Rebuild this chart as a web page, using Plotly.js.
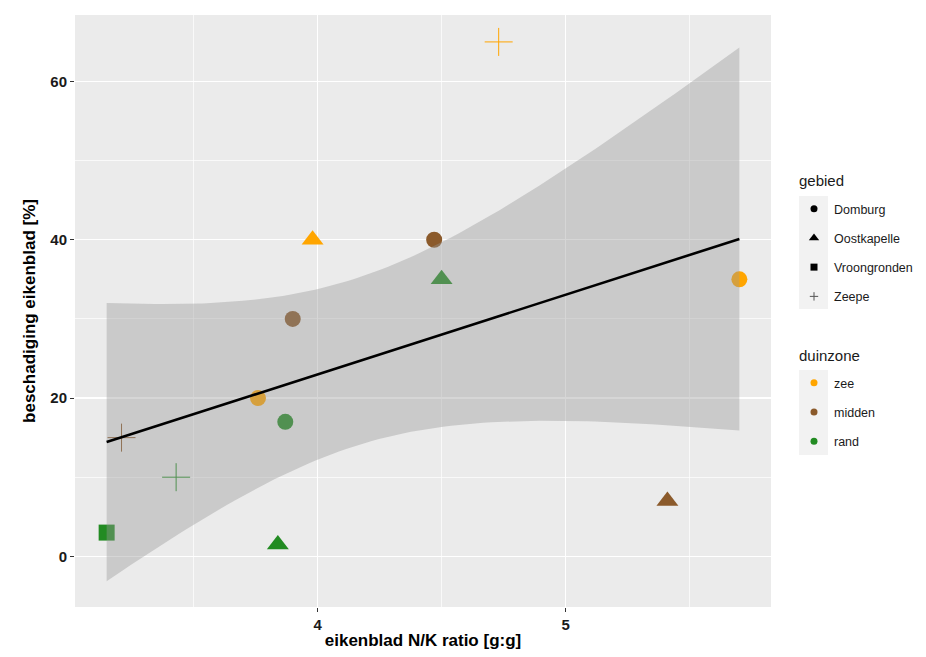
<!DOCTYPE html>
<html><head><meta charset="utf-8">
<script src="https://cdn.plot.ly/plotly-3.0.1.min.js"></script>
<style>html,body{margin:0;padding:0;background:#fff}#chart{width:926px;height:657px}</style>
</head><body><div id="chart"></div>
<script>
// ---- data ----
const nkRatio  = [4.73, 3.98, 4.47, 4.50, 3.90, 3.76, 3.87, 5.70, 5.41, 3.84, 3.15, 3.21, 3.43];
const schade   = [65, 40, 40, 35, 30, 20, 17, 35, 7, 1.5, 3, 15, 10];
const gebied   = ['Zeepe','Oostkapelle','Domburg','Oostkapelle','Domburg','Domburg','Domburg','Domburg','Oostkapelle','Oostkapelle','Vroongronden','Zeepe','Zeepe'];
const duinzone = ['zee','zee','midden','rand','midden','zee','rand','zee','midden','rand','rand','midden','rand'];
const gebiedLevels   = ['Domburg','Oostkapelle','Vroongronden','Zeepe'];
const duinzoneLevels = ['zee','midden','rand'];
const xTickVals = [4, 5];
const yTickVals = [0, 20, 40, 60];

// ---- styles ----
const symbolOf = {Domburg:'circle', Oostkapelle:'triangle-up', Vroongronden:'square', Zeepe:'cross-thin-open'};
const sizeOf   = {Domburg:16, Oostkapelle:19, Vroongronden:16, Zeepe:20};
const legSize  = {Domburg:7, Oostkapelle:9, Vroongronden:7, Zeepe:6};
const colorOf  = {zee:'#FFA500', midden:'#8B5A2B', rand:'#228B22'};

const traces = [];
// points
for (let i = 0; i < nkRatio.length; i++) {
  const g = gebied[i], d = duinzone[i];
  const isCross = g === 'Zeepe';
  traces.push({
    type:'scatter', mode:'markers', x:[nkRatio[i]], y:[schade[i]], showlegend:false, hoverinfo:'x+y',
    marker:{symbol:symbolOf[g], size:sizeOf[g], color:colorOf[d],
            line: isCross ? {color:colorOf[d], width:1} : {width:0}}
  });
}

// linear fit + 95% CI (like geom_smooth(method='lm'))
const n = nkRatio.length;
const mx = nkRatio.reduce((a,b)=>a+b,0)/n;
const my = schade.reduce((a,b)=>a+b,0)/n;
let sxx=0, sxy=0;
for (let i=0;i<n;i++){ sxx += (nkRatio[i]-mx)**2; sxy += (nkRatio[i]-mx)*(schade[i]-my); }
const slope = sxy/sxx, icpt = my - slope*mx;
let sse = 0;
for (let i=0;i<n;i++){ sse += (schade[i]-(icpt+slope*nkRatio[i]))**2; }
const s = Math.sqrt(sse/(n-2));
const tcrit = 2.200985; // t(0.975, df=11)
const xmin = Math.min(...nkRatio), xmax = Math.max(...nkRatio);
const fx=[], fy=[], up=[], lo=[];
for (let k=0;k<80;k++){
  const x = xmin + (xmax-xmin)*k/79;
  const yhat = icpt + slope*x;
  const se = s*Math.sqrt(1/n + (x-mx)**2/sxx);
  fx.push(x); fy.push(yhat); up.push(yhat+tcrit*se); lo.push(yhat-tcrit*se);
}
traces.push({type:'scatter', mode:'lines', x:fx.concat(fx.slice().reverse()), y:up.concat(lo.slice().reverse()),
  fill:'toself', fillcolor:'rgba(153,153,153,0.4)', line:{width:0}, showlegend:false, hoverinfo:'skip'});
traces.push({type:'scatter', mode:'lines', x:fx, y:fy, line:{color:'#000', width:2.6}, showlegend:false, hoverinfo:'skip'});

// legend entries
gebiedLevels.forEach((g)=>{
  const isCross = g === 'Zeepe';
  traces.push({type:'scatter', mode:'markers', x:[null], y:[null], name:g, legend:'legend', legendgroup:'g_'+g,
    marker:{symbol:symbolOf[g], size:legSize[g], color: isCross ? '#555' : '#000',
            line: isCross ? {color:'#555', width:1} : {width:0}}});
});
duinzoneLevels.forEach((d)=>{
  traces.push({type:'scatter', mode:'markers', x:[null], y:[null], name:d, legend:'legend2', legendgroup:'d_'+d,
    marker:{symbol:'circle', size:7, color:colorOf[d]}});
});

// layout geometry helpers (pixels -> paper / container)
const L=75, R=155, T=15, B=50, W=926, H=657;
const pw = W-L-R, ph = H-T-B;
const px = v => (v-L)/pw;
const py = v => (H-B-v)/ph;
const cx = v => v/W;
const cy = v => (H-v)/H;

const FAM = 'Liberation Sans, Arial, sans-serif';
const legFont = {family:FAM, size:12.5, color:'#1a1a1a'};
const legTitleFont = {family:FAM, size:15, color:'#1a1a1a'};

const layout = {
  width:W, height:H,
  margin:{l:L, r:R, t:T, b:B},
  paper_bgcolor:'#fff', plot_bgcolor:'#EBEBEB',
  font:{family:FAM},
  xaxis:{range:[3.0225, 5.8275], tickvals:xTickVals, ticktext:xTickVals.map(String),
    showgrid:true, gridcolor:'#fff', gridwidth:1.4, zeroline:false, showline:false,
    ticks:'outside', ticklen:4, tickcolor:'#333', tickwidth:1,
    tickfont:{size:15, color:'#1a1a1a', weight:'bold'},
    minor:{tickvals:[3.5,4.5,5.5], showgrid:true, gridcolor:'#fff', gridwidth:0.7, ticks:''},
    title:{text:'eikenblad N/K ratio [g:g]', font:{size:17, color:'#000', weight:'bold'}, standoff:2}},
  yaxis:{range:[-6.4, 68.4], tickvals:yTickVals, ticktext:yTickVals.map(String),
    showgrid:true, gridcolor:'#fff', gridwidth:1.4, zeroline:false, showline:false,
    ticks:'outside', ticklen:4, tickcolor:'#333', tickwidth:1,
    tickfont:{size:15, color:'#1a1a1a', weight:'bold'},
    minor:{tickvals:[10,30,50], showgrid:true, gridcolor:'#fff', gridwidth:0.7, ticks:''},
    title:{text:'beschadiging eikenblad [%]', font:{size:17, color:'#000', weight:'bold'}, standoff:10}},
  legend:{xref:'container', yref:'container', x:cx(794), y:cy(194), xanchor:'left', yanchor:'top', bgcolor:'rgba(0,0,0,0)',
    font:legFont, tracegroupgap:10, itemwidth:30},
  legend2:{xref:'container', yref:'container', x:cx(794), y:cy(368), xanchor:'left', yanchor:'top', bgcolor:'rgba(0,0,0,0)',
    font:legFont, tracegroupgap:10, itemwidth:30},
  annotations:[
    {text:'gebied', xref:'paper', yref:'paper', x:px(797), y:py(180), xanchor:'left', yanchor:'middle', showarrow:false, font:legTitleFont},
    {text:'duinzone', xref:'paper', yref:'paper', x:px(797), y:py(355), xanchor:'left', yanchor:'middle', showarrow:false, font:legTitleFont}
  ],
  shapes:[
    {type:'rect', xref:'paper', yref:'paper', x0:px(799), x1:px(828), y0:py(196), y1:py(309), fillcolor:'#F2F2F2', line:{width:0}, layer:'below'},
    {type:'rect', xref:'paper', yref:'paper', x0:px(799), x1:px(828), y0:py(370), y1:py(455), fillcolor:'#F2F2F2', line:{width:0}, layer:'below'}
  ]
};

Plotly.newPlot('chart', traces, layout, {displayModeBar:false, staticPlot:true});
</script>
</body></html>
